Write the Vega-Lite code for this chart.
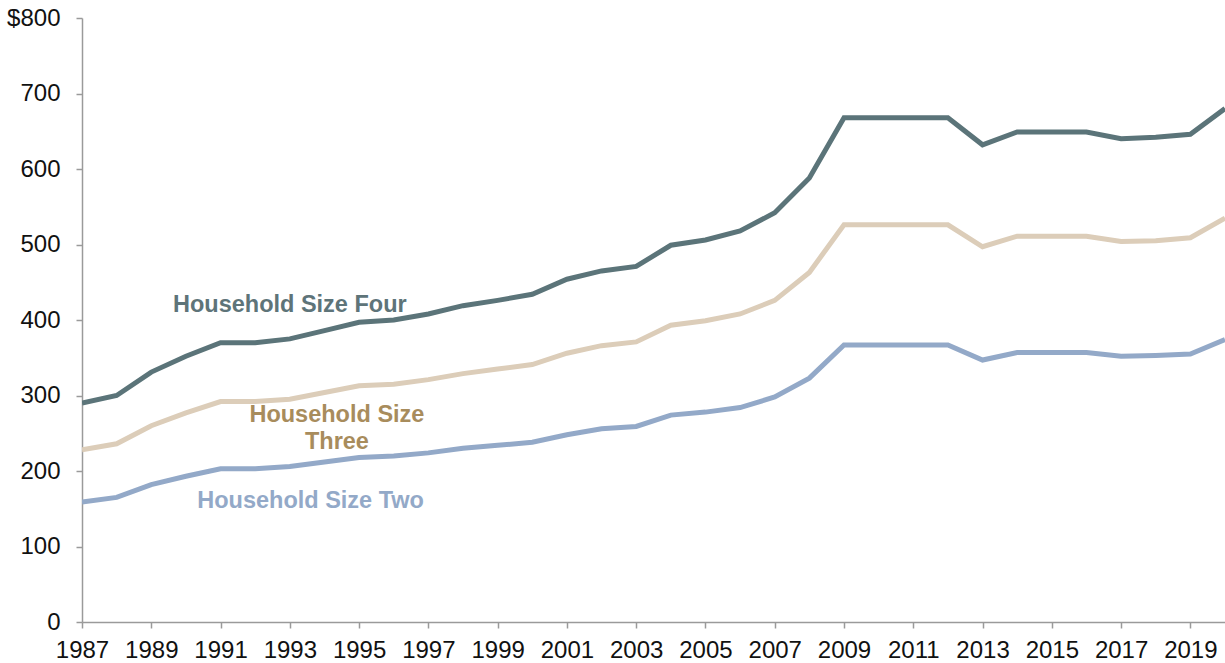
{
  "$schema": "https://vega.github.io/schema/vega-lite/v6.json",
  "width": 1143,
  "height": 604,
  "autosize": {"type": "none"},
  "padding": {"left": 82, "top": 18, "right": 0, "bottom": 41},
  "background": "white",
  "config": {
    "view": {"stroke": null},
    "font": "Liberation Sans",
    "axis": {"grid": false, "domainColor": "#9a9a9a", "tickColor": "#9a9a9a", "domainWidth": 1.5, "tickWidth": 1.5, "labelColor": "#111111", "labelFontSize": 24, "labelFont": "Liberation Sans"}
  },
  "datasets": {
    "series": [
      {"year": 1987, "four": 290, "three": 228, "two": 159},
      {"year": 1988, "four": 300, "three": 236, "two": 165},
      {"year": 1989, "four": 331, "three": 260, "two": 182},
      {"year": 1990, "four": 352, "three": 277, "two": 193},
      {"year": 1991, "four": 370, "three": 292, "two": 203},
      {"year": 1992, "four": 370, "three": 292, "two": 203},
      {"year": 1993, "four": 375, "three": 295, "two": 206},
      {"year": 1994, "four": 386, "three": 304, "two": 212},
      {"year": 1995, "four": 397, "three": 313, "two": 218},
      {"year": 1996, "four": 400, "three": 315, "two": 220},
      {"year": 1997, "four": 408, "three": 321, "two": 224},
      {"year": 1998, "four": 419, "three": 329, "two": 230},
      {"year": 1999, "four": 426, "three": 335, "two": 234},
      {"year": 2000, "four": 434, "three": 341, "two": 238},
      {"year": 2001, "four": 454, "three": 356, "two": 248},
      {"year": 2002, "four": 465, "three": 366, "two": 256},
      {"year": 2003, "four": 471, "three": 371, "two": 259},
      {"year": 2004, "four": 499, "three": 393, "two": 274},
      {"year": 2005, "four": 506, "three": 399, "two": 278},
      {"year": 2006, "four": 518, "three": 408, "two": 284},
      {"year": 2007, "four": 542, "three": 426, "two": 298},
      {"year": 2008, "four": 588, "three": 463, "two": 323},
      {"year": 2009, "four": 668, "three": 526, "two": 367},
      {"year": 2010, "four": 668, "three": 526, "two": 367},
      {"year": 2011, "four": 668, "three": 526, "two": 367},
      {"year": 2012, "four": 668, "three": 526, "two": 367},
      {"year": 2013, "four": 632, "three": 497, "two": 347},
      {"year": 2014, "four": 649, "three": 511, "two": 357},
      {"year": 2015, "four": 649, "three": 511, "two": 357},
      {"year": 2016, "four": 649, "three": 511, "two": 357},
      {"year": 2017, "four": 640, "three": 504, "two": 352},
      {"year": 2018, "four": 642, "three": 505, "two": 353},
      {"year": 2019, "four": 646, "three": 509, "two": 355},
      {"year": 2020, "four": 680, "three": 535, "two": 374}
    ],
    "labels": [
      {"year": 1993.0, "value": 420, "text": "Household Size Four", "key": "four"},
      {"year": 1994.36, "value": 274, "text": "Household Size\nThree", "key": "three"},
      {"year": 1993.6, "value": 160, "text": "Household Size Two", "key": "two"}
    ]
  },
  "layer": [
    {
      "data": {"name": "series"},
      "transform": [{"fold": ["four", "three", "two"], "as": ["key", "value"]}],
      "mark": {"type": "line", "strokeWidth": 5, "clip": true},
      "encoding": {
        "x": {"field": "year", "type": "quantitative",
              "scale": {"domain": [1987, 2020], "nice": false, "zero": false},
              "axis": {"title": null, "values": [1987,1988,1989,1990,1991,1992,1993,1994,1995,1996,1997,1998,1999,2000,2001,2002,2003,2004,2005,2006,2007,2008,2009,2010,2011,2012,2013,2014,2015,2016,2017,2018,2019,2020],
                       "labelExpr": "(datum.value - 1987) % 2 == 0 ? format(datum.value, 'd') : ''",
                       "tickSize": 6, "labelPadding": 10, "labelOverlap": false, "labelFlush": false}},
        "y": {"field": "value", "type": "quantitative",
              "scale": {"domain": [0, 800], "nice": false},
              "axis": {"title": null, "values": [0,100,200,300,400,500,600,700,800],
                       "labelExpr": "datum.value == 800 ? '$800' : datum.label",
                       "tickSize": 6, "labelPadding": 16}},
        "color": {"field": "key", "type": "nominal",
                  "scale": {"domain": ["four", "three", "two"], "range": ["#5b7479", "#dccdb9", "#93a9c8"]},
                  "legend": null}
      }
    },
    {
      "data": {"name": "labels"},
      "mark": {"type": "text", "font": "Liberation Sans", "fontWeight": "bold", "fontSize": 23.5, "align": "center", "baseline": "middle", "lineBreak": "\n", "lineHeight": 27},
      "encoding": {
        "x": {"field": "year", "type": "quantitative"},
        "y": {"field": "value", "type": "quantitative"},
        "text": {"field": "text"},
        "color": {"field": "key", "type": "nominal",
                  "scale": {"domain": ["four", "three", "two"], "range": ["#5e7479", "#a88c5c", "#93a9c8"]},
                  "legend": null}
      }
    }
  ],
  "resolve": {"scale": {"color": "independent"}}
}
